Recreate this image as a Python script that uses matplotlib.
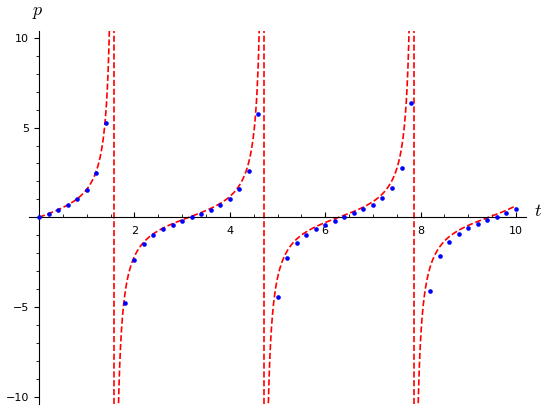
import matplotlib
matplotlib.use("Agg")
import matplotlib.pyplot as plt
import numpy as np
from matplotlib.ticker import MultipleLocator

plt.rcParams['mathtext.fontset'] = 'cm'

t_pts = [0.0, 0.2, 0.4, 0.6, 0.8, 1.0, 1.2, 1.4,
         1.8, 2.0, 2.2, 2.4, 2.6, 2.8, 3.0, 3.2, 3.4, 3.6, 3.8, 4.0, 4.2, 4.4, 4.6,
         5.0, 5.2, 5.4, 5.6, 5.8, 6.0, 6.2, 6.4, 6.6, 6.8, 7.0, 7.2, 7.4, 7.6, 7.8,
         8.2, 8.4, 8.6, 8.8, 9.0, 9.2, 9.4, 9.6, 9.8, 10.0]
p_pts = [0.0, 0.20, 0.42, 0.67, 1.00, 1.51, 2.46, 5.23,
         -4.80, -2.37, -1.49, -0.99, -0.65, -0.41, -0.21, 0.0, 0.20, 0.42, 0.67, 1.04, 1.56, 2.59, 5.75,
         -4.45, -2.27, -1.42, -0.97, -0.64, -0.41, -0.19, 0.0, 0.22, 0.46, 0.70, 1.06, 1.62, 2.72, 6.39,
         -4.12, -2.16, -1.38, -0.93, -0.62, -0.37, -0.17, 0.03, 0.24, 0.46]

# exact solution p = tan(t), poles at pi/2 + k*pi
t_min, t_max = 0.0, 10.0
p_min, p_max = -10.0, 10.0
poles = [np.pi / 2, 3 * np.pi / 2, 5 * np.pi / 2]

fig = plt.figure(figsize=(5.5, 4.11), dpi=100)
ax = fig.add_axes([0.0536, 0.0173, 0.9019, 0.908])

tt = np.linspace(t_min, t_max, 4000)
pp = np.tan(tt)
jump = np.abs(np.diff(pp)) > 50
pp[1:][jump] = np.nan
ax.plot(tt, pp, color='red', ls='--', lw=1.2, zorder=2)
for x0 in poles:
    ax.axvline(x0, color='red', ls='--', lw=1.2, zorder=2)

ax.scatter(t_pts, p_pts, s=11, color='blue', zorder=3, linewidths=0)

pad_x = 0.02 * (t_max - t_min)
pad_y = 0.02 * (p_max - p_min)
ax.set_xlim(t_min - pad_x, t_max + pad_x)
ax.set_ylim(p_min - pad_y, p_max + pad_y)

for s in ['top', 'right']:
    ax.spines[s].set_visible(False)
ax.spines['left'].set_position(('data', 0))
ax.spines['bottom'].set_position(('data', 0))

ax.xaxis.set_minor_locator(MultipleLocator(0.5))
ax.yaxis.set_minor_locator(MultipleLocator(1))
ax.set_xticks([2, 4, 6, 8, 10])
ax.set_yticks([-10, -5, 5, 10])
ax.tick_params(axis='x', which='both', direction='in', labelsize=8, pad=6)
ax.tick_params(axis='y', which='both', direction='out', labelsize=8)

fig.text(537.5 / 550, 1 - 211 / 411, '$t$', fontsize=13, ha='center', va='center')
fig.text(38 / 550, 1 - 12 / 411, '$p$', fontsize=13, ha='center', va='center')

fig.savefig('out.png', dpi=100)
